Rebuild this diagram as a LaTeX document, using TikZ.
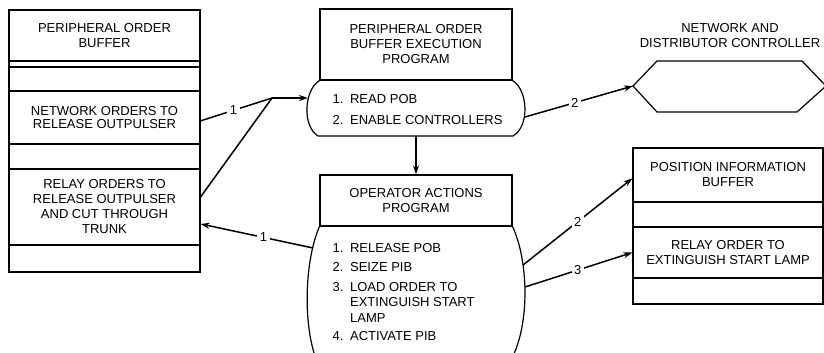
\documentclass[tikz,border=0pt]{standalone}
\usepackage{fontspec}
\setmainfont{Liberation Sans}
\usetikzlibrary{arrows.meta}

\tikzset{
  box/.style={draw, align=center, inner sep=0pt, font=\fontsize{13}{15}\selectfont},
  lab/.style={inner sep=0pt, font=\fontsize{13}{15}\selectfont},
  num/.style={fill=white, inner sep=2.5pt, font=\fontsize{13}{15}\selectfont},
  wire/.style={line width=1.5pt},
  flow/.style={line width=1.5pt, -{Stealth[length=9pt,width=6pt]}},
}
\newcommand{\itm}[2]{\makebox[17.5pt][l]{#1}#2}

\begin{document}
\begin{tikzpicture}[x=1pt, y=-1pt, line width=1.2pt]
 \useasboundingbox (0,0) rectangle (824,353);

 % peripheral order buffer
 \node[box, minimum width=191, minimum height=51] (pob) at (104.5,35.5) {PERIPHERAL ORDER\\BUFFER};
 \node[box, minimum width=191, minimum height=53] (net) at (104.5,117.5) {NETWORK ORDERS TO\\[-1.5pt]RELEASE OUTPULSER};
 \node[box, minimum width=191, minimum height=76] (relay) at (104.5,207) {RELAY ORDERS TO\\RELEASE OUTPULSER\\AND CUT THROUGH\\TRUNK};
 \foreach \ya/\yb in {61/67, 67/91, 144/169, 245/272}
   \draw (9,\ya) rectangle (200,\yb);

 % execution program
 \node[box, minimum width=192, minimum height=71] (pobx) at (416,44.5) {PERIPHERAL ORDER\\BUFFER EXECUTION\\PROGRAM};
 \draw (pobx.south west) .. controls (304,90) and (302,126) .. (318,136) -- (513,136)
       .. controls (530,126) and (528,90) .. (pobx.south east);
 \foreach \y/\txt [count=\k] in {99/{\itm{1.}{READ POB}}, 120/{\itm{2.}{ENABLE CONTROLLERS}}}
   \node[lab, anchor=base west] (pxi\k) at (332,\y+4.6) {\txt};

 % operator actions
 \node[box, minimum width=192, minimum height=51] (opa) at (416,200.5) {OPERATOR ACTIONS\\PROGRAM};
 \draw (opa.south west) .. controls (305,260) and (303,320) .. (315,356);
 \draw (opa.south east) .. controls (528,260) and (530,320) .. (513,356);
 \foreach \y/\txt [count=\k] in {247.7/{\itm{1.}{RELEASE POB}}, 266.7/{\itm{2.}{SEIZE PIB}},
     286.7/{\itm{3.}{LOAD ORDER TO}}, 301.7/{\itm{}{EXTINGUISH START}}, 317.7/{\itm{}{LAMP}},
     336/{\itm{4.}{ACTIVATE PIB}}}
   \node[lab, anchor=base west] (opi\k) at (332,\y+4.6) {\txt};

 % network and distributor controller
 \node[lab, align=center] (ndc) at (730,36) {NETWORK AND\\DISTRIBUTOR CONTROLLER};
 \draw (633,86) -- (657,61) -- (802,61) -- (826,86) -- (797,112) -- (657,112) -- cycle;
 \coordinate (ndcw) at (633,86);

 % position information buffer
 \node[box, minimum width=190, minimum height=54] (pib) at (728,175) {POSITION INFORMATION\\BUFFER};
 \node[box, minimum width=190, minimum height=51] (rly) at (728,252.5) {RELAY ORDER TO\\EXTINGUISH START LAMP};
 \foreach \ya/\yb in {202/227, 278/304}
   \draw (633,\ya) rectangle (823,\yb);

 % lines
 \coordinate (jn) at (272,98);
 \coordinate (pobl) at (308,98);
 \coordinate (pobr) at (525,117);
 \coordinate (pobb) at (416,136);
 \coordinate (opl) at (313,248);
 \coordinate (opr1) at (523,265);
 \coordinate (opr2) at (525,287);

 \draw[wire] (net.-2) -- node[num, pos=0.46] (n1) {1} (jn);
 \draw[wire] (relay.6) -- (jn);
 \draw[flow] (jn) -- (pobl);
 \draw[flow] (opl) -- node[num, pos=0.44] (n2) {1} (relay.-10);
 \draw[flow] (pobb) -- (opa.north);
 \draw[flow] (pobr) -- node[num, pos=0.46] (n3) {2} (ndcw);
 \draw[flow] (opr1) -- node[num, pos=0.5] (n4) {2} (pib.182);
 \draw[flow] (opr2) -- node[num, pos=0.49] (n5) {3} (rly.west);

\end{tikzpicture}
\end{document}
